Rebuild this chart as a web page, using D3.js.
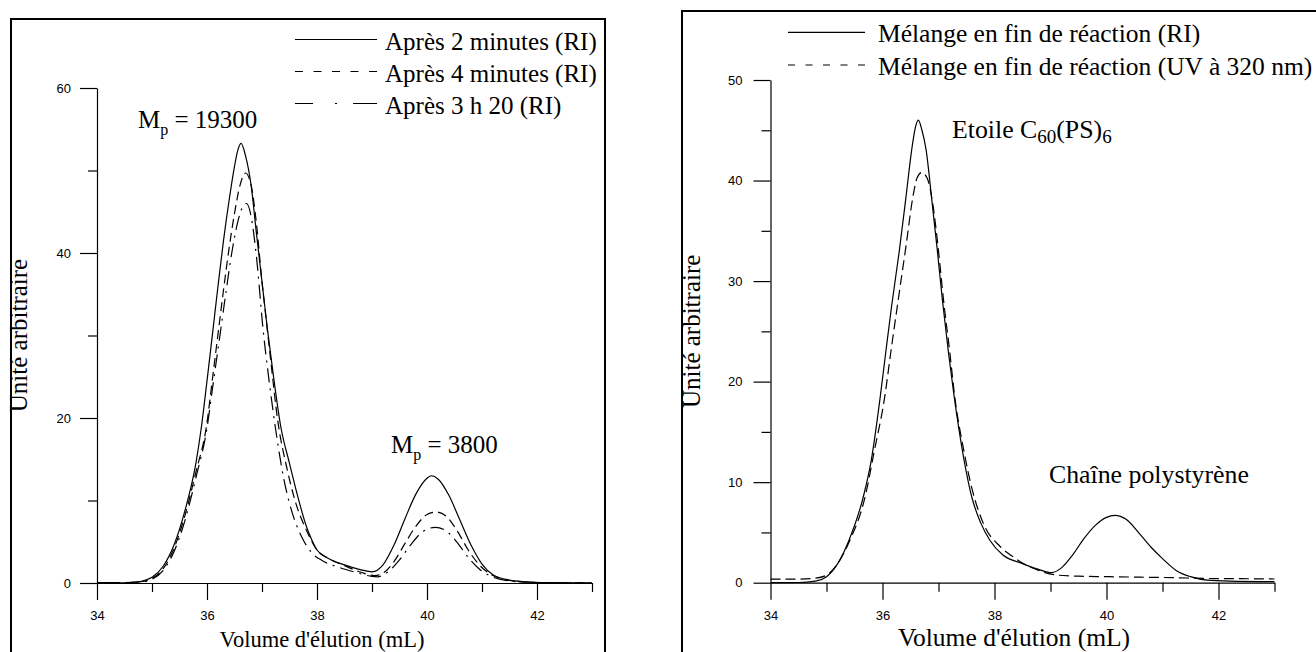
<!DOCTYPE html>
<html>
<head>
<meta charset="utf-8">
<script src="https://cdn.jsdelivr.net/npm/d3@7.9.0/dist/d3.min.js"></script>
<style>
  body { margin: 0; background: #fff; }
  svg { display: block; }
</style>
</head>
<body>
<script>
// Chromatogrammes SEC : valeurs, [volume (mL), unité arbitraire]
const apres2min = [
  [34, 0], [34.5, 0.02], [34.7, 0.1], [34.9, 0.4], [35.0, 0.7], [35.2, 2.0], [35.4, 4.6],
  [35.6, 8.8], [35.8, 14.6], [35.9, 19], [36.0, 24.5], [36.1, 30.2], [36.2, 36], [36.3, 41.5],
  [36.4, 46.3], [36.5, 50.5], [36.55, 52.2], [36.62, 53.3], [36.7, 51.8], [36.8, 48.3],
  [36.9, 42.3], [37.0, 36.5], [37.1, 30.7], [37.2, 25.5], [37.34, 19], [37.5, 14.5],
  [37.65, 10.5], [37.8, 7.0], [37.9, 5.3], [38.0, 4.0], [38.2, 3.0], [38.5, 2.2], [38.8, 1.6],
  [39.0, 1.35], [39.2, 2.2], [39.4, 4.6], [39.6, 7.8], [39.8, 10.8], [40.0, 12.7], [40.08, 13.0],
  [40.2, 12.6], [40.4, 10.6], [40.6, 7.6], [40.8, 4.6], [41.0, 2.3], [41.2, 1.0], [41.5, 0.35],
  [41.8, 0.15], [42.2, 0.05], [43, 0]
];
const apres4min = [
  [34, 0.05], [34.5, 0.05], [34.8, 0.15], [35.0, 0.55], [35.2, 1.7], [35.4, 4.2], [35.6, 8.2],
  [35.8, 13.5], [35.99, 19], [36.1, 24.8], [36.21, 30.7], [36.3, 35.5], [36.4, 40.5],
  [36.5, 44.8], [36.6, 48.2], [36.7, 49.7], [36.8, 48.3], [36.9, 43.5], [37.0, 36.5],
  [37.05, 33.5], [37.15, 27.5], [37.29, 19.5], [37.45, 14], [37.6, 10], [37.8, 6.5], [38.0, 4.0],
  [38.2, 3.0], [38.5, 2.1], [38.8, 1.3], [39.05, 0.9], [39.2, 1.2], [39.4, 2.6], [39.6, 4.8],
  [39.8, 6.9], [40.0, 8.3], [40.17, 8.6], [40.35, 8.1], [40.55, 6.3], [40.75, 4.0], [40.95, 2.2],
  [41.2, 0.9], [41.5, 0.3], [41.8, 0.12], [42.2, 0.04], [43, 0]
];
const apres3h20 = [
  [34, 0.05], [34.5, 0.05], [34.8, 0.12], [35.0, 0.45], [35.2, 1.5], [35.4, 3.8], [35.6, 7.6],
  [35.8, 12.8], [36.0, 18.8], [36.1, 23.6], [36.25, 30.7], [36.35, 35.5], [36.45, 40],
  [36.55, 43.5], [36.65, 45.6], [36.72, 46], [36.8, 44.5], [36.9, 39.5], [37.02, 30.7],
  [37.12, 25], [37.24, 19], [37.4, 12.5], [37.55, 8.5], [37.72, 5.6], [37.9, 3.7], [38.1, 2.7],
  [38.4, 1.9], [38.7, 1.3], [39.0, 0.8], [39.1, 0.75], [39.3, 1.4], [39.5, 2.8], [39.7, 4.6],
  [39.9, 6.1], [40.15, 6.75], [40.35, 6.3], [40.55, 4.9], [40.75, 3.1], [40.95, 1.7], [41.2, 0.7],
  [41.5, 0.25], [41.8, 0.1], [42.2, 0.03], [43, 0]
];
const finRI = [
  [34, 0], [34.5, 0.02], [34.8, 0.15], [35.0, 0.6], [35.2, 1.9], [35.4, 4.2], [35.66, 8.6],
  [35.8, 12.2], [35.96, 18.5], [36.06, 23.0], [36.16, 27.4], [36.3, 33.0], [36.42, 38.4],
  [36.52, 43.0], [36.58, 45.1], [36.64, 46], [36.7, 45.1], [36.78, 43.0], [36.88, 38.1],
  [36.98, 33.0], [37.07, 28.1], [37.18, 22.8], [37.28, 18.5], [37.45, 12.4], [37.6, 8.4],
  [37.75, 6.0], [37.92, 4.2], [38.15, 2.75], [38.5, 1.9], [38.8, 1.3], [39.02, 1.0], [39.2, 1.5],
  [39.4, 2.8], [39.6, 4.4], [39.8, 5.7], [40.0, 6.5], [40.15, 6.7], [40.35, 6.3], [40.6, 4.8],
  [40.8, 3.5], [41.0, 2.4], [41.25, 1.2], [41.5, 0.6], [41.8, 0.25], [42.2, 0.15], [43, 0.1]
];
const finUV = [
  [34, 0.35], [34.5, 0.35], [34.8, 0.45], [35.0, 0.75], [35.2, 1.9], [35.4, 4.0], [35.7, 8.8],
  [35.85, 13], [36.04, 18.5], [36.15, 23], [36.28, 28.1], [36.42, 33.5], [36.55, 38.6],
  [36.62, 40.3], [36.7, 40.8], [36.8, 40.2], [36.9, 37.6], [37.0, 33.0], [37.09, 28.1],
  [37.2, 23], [37.29, 18.5], [37.45, 13.2], [37.6, 9.3], [37.8, 5.9], [38.1, 3.6], [38.3, 2.7],
  [38.5, 1.95], [38.8, 1.2], [39.1, 0.77], [39.5, 0.65], [40.0, 0.6], [40.6, 0.55], [41.2, 0.5],
  [41.8, 0.42], [42.4, 0.4], [43, 0.37]
];

// ticks
const xMajor = [34, 36, 38, 40, 42];
const xMinor = [35, 37, 39, 41, 43];
const leftYMajor = [0, 20, 40, 60];
const leftYMinor = [10, 30, 50];
const rightYMajor = [0, 10, 20, 30, 40, 50];
const rightYMinor = [5, 15, 25, 35, 45];

// labels
const leftLegend = ['Après 2 minutes (RI)', 'Après 4 minutes (RI)', 'Après 3 h 20 (RI)'];
const rightLegend = ['Mélange en fin de réaction (RI)', 'Mélange en fin de réaction (UV à 320 nm)'];
const xTitle = "Volume d'élution (mL)";
const yTitle = 'Unité arbitraire';

const serif = "'Liberation Serif', 'Times New Roman', serif";
const sans = "'Liberation Sans', Arial, sans-serif";

const svg = d3.select('body').append('svg')
  .attr('width', 1316)
  .attr('height', 652);

function drawPanel(p) {
  const g = svg.append('g');

  // cadre
  g.append('rect')
    .attr('x', p.box[0]).attr('y', p.box[1])
    .attr('width', p.box[2]).attr('height', p.box[3])
    .attr('fill', 'none').attr('stroke', '#000').attr('stroke-width', 2);

  const x = d3.scaleLinear().domain([34, 43]).range(p.xRange);
  const y = d3.scaleLinear().domain(p.yDomain).range(p.yRange);

  // axe x
  const xAxis = g.append('g')
    .attr('transform', `translate(0,${y(0)})`)
    .call(d3.axisBottom(x).tickValues(xMajor).tickSize(17).tickSizeOuter(0).tickPadding(11));
  g.append('g')
    .attr('transform', `translate(0,${y(0)})`)
    .call(d3.axisBottom(x).tickValues(xMinor).tickSize(9).tickFormat(''))
    .call((a) => a.select('.domain').remove());

  // axe y
  const yAxis = g.append('g')
    .attr('transform', `translate(${x(34)},0)`)
    .call(d3.axisLeft(y).tickValues(p.yMajor).tickSize(17).tickSizeOuter(0).tickPadding(p.yPad));
  g.append('g')
    .attr('transform', `translate(${x(34)},0)`)
    .call(d3.axisLeft(y).tickValues(p.yMinor).tickSize(9).tickFormat(''))
    .call((a) => a.select('.domain').remove());

  g.selectAll('.domain, .tick line').attr('stroke', '#000').attr('stroke-width', 1.2);
  [xAxis, yAxis].forEach((a) => a.selectAll('text')
    .attr('font-family', sans).attr('font-size', 13).attr('fill', '#000'));

  // titres des axes
  g.append('text')
    .attr('x', p.xTitle[0]).attr('y', p.xTitle[1])
    .attr('text-anchor', 'middle')
    .attr('font-family', serif).attr('font-size', p.xTitle[2])
    .text(xTitle);
  g.append('text')
    .attr('transform', `translate(${p.yTitleX},${(p.yRange[0] + p.yRange[1]) / 2}) rotate(-90)`)
    .attr('text-anchor', 'middle')
    .attr('font-family', serif).attr('font-size', 25)
    .text(yTitle);

  // courbes
  const line = d3.line()
    .x((d) => x(d[0]))
    .y((d) => y(d[1]))
    .curve(d3.curveMonotoneX);

  p.series.forEach((s) => {
    g.append('path')
      .datum(s.data)
      .attr('d', line)
      .attr('fill', 'none')
      .attr('stroke', '#000')
      .attr('stroke-width', 1.2)
      .attr('stroke-dasharray', s.dash);
  });

  // légende
  p.series.forEach((s, i) => {
    const ly = p.legend.y0 + i * p.legend.step;
    g.append('line')
      .attr('x1', p.legend.x1).attr('x2', p.legend.x2)
      .attr('y1', ly).attr('y2', ly)
      .attr('stroke', '#000').attr('stroke-width', 1.2)
      .attr('stroke-dasharray', s.legendDash);
    g.append('text')
      .attr('x', p.legend.tx).attr('y', ly + p.legend.dy)
      .attr('font-family', serif).attr('font-size', p.fontSize)
      .text(s.label);
  });

  return g;
}

const left = drawPanel({
  box: [11, 19, 594, 700],
  xRange: [97, 592],
  yRange: [583, 88],
  yDomain: [0, 60],
  yMajor: leftYMajor,
  yMinor: leftYMinor,
  yPad: 9,
  fontSize: 25,
  xTitle: [322, 647, 22.5],
  yTitleX: 27,
  legend: { x1: 295, x2: 377, tx: 385, y0: 39.5, step: 32, dy: 10 },
  series: [
    { data: apres2min, label: leftLegend[0], dash: null, legendDash: null },
    { data: apres4min, label: leftLegend[1], dash: '9,5', legendDash: '8,10.5' },
    { data: apres3h20, label: leftLegend[2], dash: '14,6,2,6', legendDash: '18,22,2,16,24' }
  ]
});

const right = drawPanel({
  box: [682, 11, 700, 700],
  xRange: [770.5, 1274.5],
  yRange: [582.7, 80],
  yDomain: [0, 50],
  yMajor: rightYMajor,
  yMinor: rightYMinor,
  yPad: 11,
  fontSize: 25.5,
  xTitle: [1014, 646, 25.5],
  yTitleX: 700,
  legend: { x1: 788, x2: 865, tx: 878, y0: 32.3, step: 32.7, dy: 9.5 },
  series: [
    { data: finRI, label: rightLegend[0], dash: null, legendDash: null },
    { data: finUV, label: rightLegend[1], dash: '10,5', legendDash: '7,10.5' }
  ]
});

// annotations
function mp(g, x, y, value) {
  const t = g.append('text')
    .attr('x', x).attr('y', y)
    .attr('font-family', serif).attr('font-size', 25);
  t.append('tspan').text('M');
  t.append('tspan').attr('font-size', 16).attr('dy', 7).text('p');
  t.append('tspan').attr('dy', -7).text(' = ' + value);
}
mp(left, 138, 128, '19300');
mp(left, 391, 453, '3800');

const etoile = right.append('text')
  .attr('x', 952).attr('y', 138)
  .attr('font-family', serif).attr('font-size', 25.8);
etoile.append('tspan').text('Etoile C');
etoile.append('tspan').attr('font-size', 19).attr('dy', 5).text('60');
etoile.append('tspan').attr('dy', -5).text('(PS)');
etoile.append('tspan').attr('font-size', 19).attr('dy', 5).text('6');

right.append('text')
  .attr('x', 1049).attr('y', 483)
  .attr('font-family', serif).attr('font-size', 25.8)
  .text('Chaîne polystyrène');
</script>
</body>
</html>
